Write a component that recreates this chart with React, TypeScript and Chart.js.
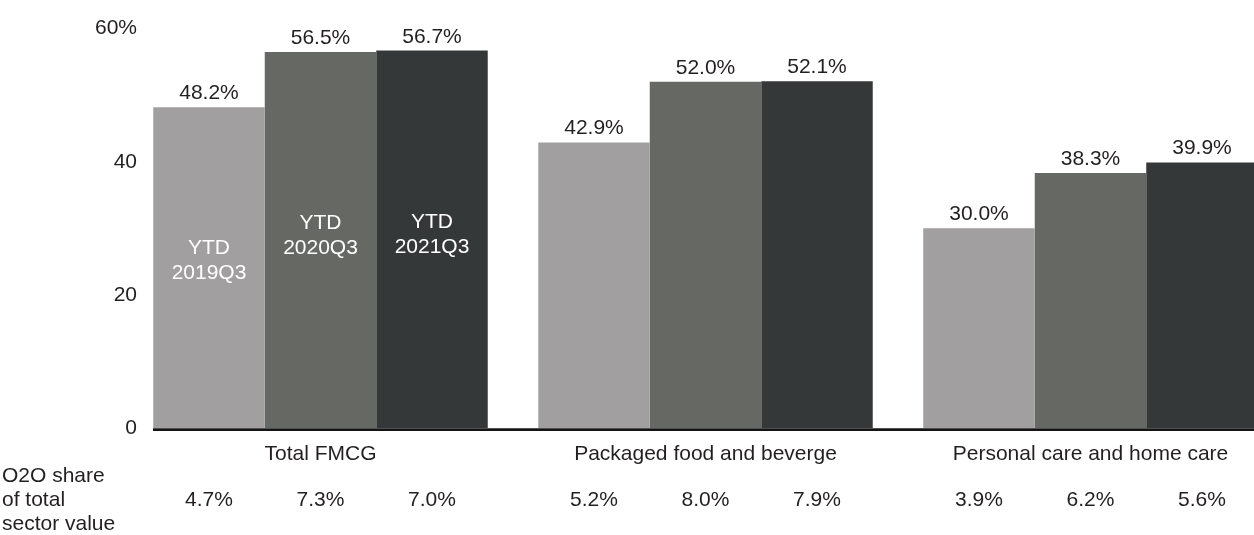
import React, { useEffect, useRef } from "react";
import { Chart, registerables } from "chart.js";

Chart.register(...registerables);

// ---- data ----
const categories = ["Total FMCG", "Packaged food and beverge", "Personal care and home care"];
const periodLines = [
  ["YTD", "2019Q3"],
  ["YTD", "2020Q3"],
  ["YTD", "2021Q3"],
];
const share2019 = [48.2, 42.9, 30.0];
const share2020 = [56.5, 52.0, 38.3];
const share2021 = [56.7, 52.1, 39.9];
const o2o2019 = [4.7, 5.2, 3.9];
const o2o2020 = [7.3, 8.0, 6.2];
const o2o2021 = [7.0, 7.9, 5.6];
const yTicks = [0, 20, 40, 60];
const rowLabel = ["O2O share", "of total", "sector value"];

// ---- style ----
const FONT = '"Liberation Sans", Arial, Helvetica, sans-serif';
const TEXT = "#231f20";
const COLORS = ["#a19fa0", "#666864", "#353839"];
const INNER_LABEL_AT = [26.1, 29.9, 30.0]; // y-value of first line baseline

const seriesList = [share2019, share2020, share2021];
const o2oList = [o2o2019, o2o2020, o2o2021];

const labelsPlugin = {
  id: "customLabels",
  afterDatasetsDraw(chart: any) {
    const ctx = chart.ctx as CanvasRenderingContext2D;
    const yScale = chart.scales.y;
    const area = chart.chartArea;
    ctx.save();
    // axis line
    ctx.strokeStyle = "#151515";
    ctx.lineWidth = 2.8;
    ctx.beginPath();
    ctx.moveTo(area.left, area.bottom + 1.6);
    ctx.lineTo(chart.width, area.bottom + 1.6);
    ctx.stroke();

    ctx.font = `21px ${FONT}`;
    ctx.textAlign = "center";
    ctx.textBaseline = "alphabetic";
    chart.data.datasets.forEach((ds: any, di: number) => {
      const meta = chart.getDatasetMeta(di);
      meta.data.forEach((el: any, i: number) => {
        const v = seriesList[di][i];
        ctx.fillStyle = TEXT;
        ctx.fillText(v.toFixed(1) + "%", el.x, el.y - 8);
        ctx.fillText(o2oList[di][i].toFixed(1) + "%", el.x, 506);
        if (i === 0) {
          ctx.fillStyle = "#ffffff";
          const base = yScale.getPixelForValue(INNER_LABEL_AT[di]);
          periodLines[di].forEach((line, li) => {
            ctx.fillText(line, el.x, base + li * 25);
          });
        }
      });
    });
    ctx.textAlign = "left";
    ctx.fillStyle = TEXT;
    rowLabel.forEach((t, i) => {
      ctx.fillText(t, 2, 482 + i * 24);
    });
    ctx.restore();
  },
};

export default function App() {
  const ref = useRef<HTMLCanvasElement | null>(null);

  useEffect(() => {
    if (!ref.current) return;
    const font = { family: FONT, size: 21 };
    const chart = new Chart(ref.current, {
      type: "bar",
      data: {
        datasets: seriesList.map((s, di) => ({
          label: periodLines[di].join(" "),
          data: s.map((v, i) => ({ x: i, y: v })),
          backgroundColor: COLORS[di],
          borderWidth: 0,
          categoryPercentage: 0.8688,
          barPercentage: 1,
        })),
      },
      options: {
        responsive: false,
        animation: false,
        devicePixelRatio: 1,
        layout: { padding: { top: 26, left: 0, right: 0, bottom: 0 } },
        plugins: { legend: { display: false }, tooltip: { enabled: false } },
        scales: {
          x: {
            type: "linear",
            offset: false,
            min: -0.43506,
            max: 2.42468,
            afterBuildTicks: (s: any) => {
              s.ticks = categories.map((_, i) => ({ value: i }));
            },
            afterFit: (s: any) => {
              s.height = 107;
            },
            grid: { display: false, drawTicks: false },
            border: { display: false },
            ticks: {
              autoSkip: false,
              maxRotation: 0,
              padding: 14,
              color: TEXT,
              font,
              callback: (v: any) => categories[Math.round(Number(v))] ?? "",
            },
          },
          y: {
            min: 0,
            max: 60,
            afterBuildTicks: (s: any) => {
              s.ticks = yTicks.map((v) => ({ value: v }));
            },
            afterFit: (s: any) => {
              s.width = 153;
            },
            grid: { display: false, drawTicks: false },
            border: { display: false },
            ticks: {
              padding: 16,
              color: TEXT,
              font,
              callback: (v: any) => (Number(v) === 60 ? "60%" : String(v)),
            },
          },
        },
      },
      plugins: [labelsPlugin],
    } as any);
    return () => chart.destroy();
  }, []);

  return (
    <div style={{ position: "fixed", left: 0, top: 0, width: 1254, height: 535, background: "#fff" }}>
      <canvas ref={ref} width={1254} height={535} style={{ display: "block" }} />
    </div>
  );
}
